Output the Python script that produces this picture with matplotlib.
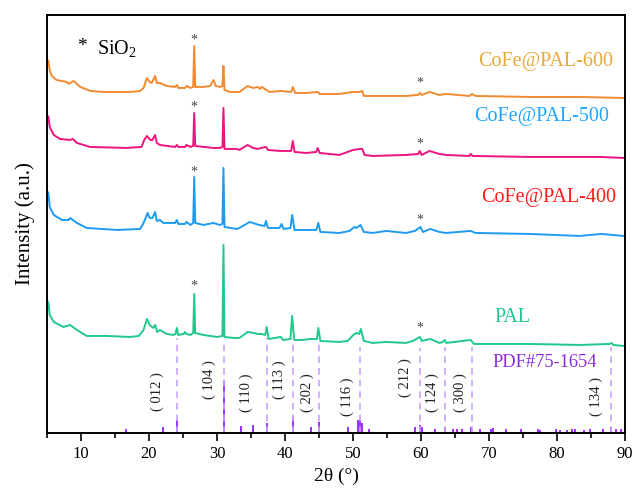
import numpy as np
import matplotlib.pyplot as plt

plt.rcParams['font.family'] = ['Liberation Serif', 'Noto Sans CJK SC']
plt.rcParams['mathtext.fontset'] = 'custom'
plt.rcParams['mathtext.rm'] = 'Liberation Serif'

# XRD patterns (2theta, intensity in arbitrary offset units)
tt_600 = [5.0, 5.2, 5.4, 5.7, 6.4, 7.9, 8.2, 8.9, 9.9, 11.4, 13.3, 17.2, 18.7, 19.2, 19.7, 20.1, 20.4, 20.9, 21.15,
          21.6, 22.6, 23.85, 24.1, 24.3, 25.3, 25.5, 26.1, 26.5, 26.65, 26.8, 28.0, 29.0, 29.5, 29.8, 30.5, 30.8,
          30.95, 31.1, 31.9, 33.3, 34.5, 35.3, 36.0, 36.3, 36.6, 37.7, 39.4, 40.9, 41.15, 41.5, 43.1, 44.8, 45.1,
          48.0, 50.0, 51.0, 51.35, 51.6, 52.9, 57.8, 59.6, 59.85, 60.1, 61.25, 62.7, 63.7, 67.1, 67.5, 68.0, 76.0,
          83.3, 89.8, 90.0]
i_600 = [374, 372, 363, 357, 353, 351, 349, 352, 346, 342, 341, 341, 342, 345, 355, 351, 350, 357, 350,
         350, 347, 346, 348, 345, 345, 347, 345, 346, 387, 346, 346, 347, 353, 347, 346, 347,
         367, 343, 341, 341, 347, 345, 346, 344, 346, 341, 342, 341, 346, 340, 340, 341, 339,
         339, 341, 341, 342, 337, 337, 337, 338, 340, 338, 341, 338, 339, 337, 339, 337, 336,
         336, 335, 335]

tt_500 = [5.0, 5.2, 5.4, 6.0, 6.9, 8.4, 8.8, 9.4, 11.35, 16.7, 18.9, 19.3, 19.7, 20.2, 20.5, 20.9, 21.15, 21.6,
          23.85, 24.1, 24.3, 25.3, 25.5, 26.1, 26.5, 26.65, 26.8, 29.5, 30.4, 30.8, 30.95, 31.1, 32.9, 33.3, 34.5,
          35.3, 36.0, 36.5, 37.2, 37.5, 39.2, 40.9, 41.15, 41.4, 43.1, 44.6, 44.8, 45.1, 48.0, 50.0, 51.0, 51.35,
          51.7, 52.9, 57.8, 59.6, 59.8, 60.1, 61.25, 62.7, 63.7, 67.1, 67.3, 67.6, 76.0, 83.3, 86.5, 89.8, 90.0]
i_500 = [318, 316, 306, 298, 294, 293, 294, 290, 286, 285, 286, 293, 297, 293, 293, 298, 290, 288,
         286, 288, 286, 286, 288, 286, 287, 320, 287, 285, 285, 286, 325, 284, 284, 283, 288,
         285, 284, 285, 286, 283, 282, 282, 292, 281, 280, 281, 285, 280, 278, 283, 284, 284,
         278, 277, 278, 279, 282, 278, 282, 279, 278, 277, 279, 277, 276, 276, 276, 275, 275]

tt_400 = [5.0, 5.2, 5.4, 6.0, 7.2, 8.2, 8.4, 9.4, 10.85, 15.3, 18.7, 19.2, 19.8, 20.1, 20.5, 20.9, 21.15, 21.6,
          22.1, 23.85, 24.1, 24.3, 25.3, 25.5, 26.1, 26.5, 26.65, 26.8, 28.0, 29.5, 30.4, 30.8, 30.95, 31.1, 32.9,
          33.3, 34.8, 36.2, 37.0, 37.2, 37.5, 39.2, 39.5, 39.8, 40.8, 41.05, 41.4, 42.4, 44.6, 44.9, 45.2, 48.0,
          49.5, 50.2, 50.5, 51.1, 51.6, 52.9, 54.9, 57.8, 59.1, 59.9, 60.3, 61.35, 62.7, 63.7, 67.3, 68.0, 76.0,
          83.3, 86.5, 89.8, 90.0]
i_400 = [242, 240, 226, 218, 213, 213, 215, 210, 205, 203, 204, 210, 220, 215, 215, 221, 212, 213,
         210, 210, 213, 209, 209, 211, 208, 210, 256, 210, 208, 210, 208, 209, 265, 206, 204,
         205, 211, 208, 207, 212, 205, 205, 209, 204, 205, 218, 203, 203, 203, 210, 201, 200,
         202, 206, 205, 208, 201, 200, 202, 200, 202, 206, 201, 204, 201, 200, 202, 200, 199,
         197, 199, 197, 197]

tt_pal = [5.0, 5.2, 5.4, 6.0, 7.4, 8.4, 9.4, 10.85, 13.8, 17.2, 18.5, 19.2, 19.7, 20.1, 20.6, 20.9, 21.2, 21.6,
          22.6, 23.6, 23.9, 24.1, 24.3, 25.1, 25.3, 25.5, 26.1, 26.5, 26.65, 26.8, 28.0, 30.0, 30.8, 30.95, 31.1,
          32.4, 33.3, 34.5, 35.4, 36.0, 36.5, 37.1, 37.3, 37.6, 39.4, 39.7, 40.8, 41.05, 41.35, 42.5, 43.8, 44.7,
          44.9, 45.2, 48.0, 49.2, 50.2, 50.6, 50.9, 51.15, 51.6, 52.9, 54.9, 57.8, 58.8, 59.85, 60.1, 61.35, 62.7,
          63.2, 63.5, 63.7, 67.3, 67.8, 76.0, 83.3, 87.7, 88.0, 88.3, 89.8, 90.0]
i_pal = [133, 130, 118, 111, 106, 108, 103, 97, 97, 96, 97, 103, 114, 108, 105, 108, 101, 103,
         99, 98, 99, 105, 98, 99, 101, 99, 98, 100, 139, 100, 98, 96, 97, 188, 96,
         95, 95, 101, 100, 99, 99, 98, 106, 94, 96, 93, 94, 117, 93, 93, 94, 94,
         105, 92, 91, 92, 99, 100, 99, 104, 92, 90, 91, 90, 92, 96, 92, 94, 90,
         91, 93, 90, 93, 89, 89, 88, 89, 90, 88, 87, 87]

# PDF#75-1654 reference sticks
pdf_pos = [16.6, 22.1, 24.1, 31.0, 33.6, 35.3, 37.4, 41.15, 43.85, 45.0, 49.3, 50.7, 51.05, 51.35, 52.4,
           59.05, 59.8, 60.1, 62.1, 63.5, 64.7, 65.3, 66.1, 67.4, 68.7, 70.3, 70.6, 72.5, 74.7, 77.2, 77.5,
           79.9, 80.4, 81.4, 82.2, 82.6, 84.0, 84.8, 86.7, 88.0, 88.7, 89.4]
pdf_int = [4, 6, 13, 52, 7, 8, 10, 17, 6, 11, 6, 13, 14, 10, 4,
           6, 8, 6, 4, 6, 4, 4, 4, 6, 4, 4, 5, 4, 4, 4, 3,
           4, 3, 3, 4, 4, 3, 4, 4, 6, 4, 4]

# dashed guide lines from PAL peaks down to the sticks
guide_pos = [24.15, 31.0, 37.4, 41.15, 45.0, 51.1, 59.9, 63.55, 67.5, 88.0]
guide_top = [95, 90, 95, 95, 89, 86, 85, 86, 86, 86]

hkl = ['012', '104', '110', '113', '202', '116', '212', '124', '300', '134']
hkl_x = [21.25, 28.9, 34.35, 39.2, 43.2, 49.2, 57.7, 61.7, 65.8, 85.8]
hkl_y = [41, 53, 40, 53, 40, 36, 55, 40, 40, 36]

star_x = [26.65, 26.65, 26.65, 26.65, 59.9, 59.9, 59.9, 59.9]
star_y = [393, 326, 261, 147, 350, 289, 213, 105]

fig = plt.figure(figsize=(6.36, 4.92), dpi=100)
ax = fig.add_axes([0.0739, 0.12, 0.9088, 0.8496])

ax.plot(tt_600, i_600, color='#F28A30', lw=1.4)
ax.plot(tt_500, i_500, color='#EE1480', lw=1.4)
ax.plot(tt_400, i_400, color='#1E9BF0', lw=1.4)
ax.plot(tt_pal, i_pal, color='#20C98A', lw=1.4)

ax.vlines(pdf_pos, 0, pdf_int, color='#9B30FF', lw=1.4)
ax.vlines(guide_pos, 0, guide_top, color='#C9A2FF', lw=1.2, linestyles=(0, (4, 3)))

for h, x, y in zip(hkl, hkl_x, hkl_y):
    ax.text(x, y, '( ' + h + ' )', rotation=90, ha='center', va='center', fontsize=10.5, color='#222222')

for x, y in zip(star_x, star_y):
    ax.text(x, y, '*', ha='center', va='center', fontsize=10, color='#444444')

ax.text(10.2, 386, '*', ha='center', va='center', fontsize=14, color='black')
ax.text(12.4, 384, r'SiO$_\mathrm{2}$', ha='left', va='center', fontsize=14.5, color='black')

ax.text(88.2, 371, 'CoFe@PAL-600', ha='right', va='center', fontsize=14.5, color='#E8A838')
ax.text(87.7, 316, 'CoFe@PAL-500', ha='right', va='center', fontsize=14.5, color='#1EA5FF')
ax.text(88.75, 235, 'CoFe@PAL-400', ha='right', va='center', fontsize=14.5, color='#FF1A1A')
ax.text(73.5, 115, 'PAL', ha='center', va='center', fontsize=14.5, color='#20C98A')
ax.text(78.2, 70, 'PDF#75-1654', ha='center', va='center', fontsize=13.2, color='#8A2BE2')

ax.set_xlim(5, 90)
ax.set_ylim(0, 418)
ax.set_xticks(np.arange(10, 91, 10))
ax.set_xticks(np.arange(5, 91, 5), minor=True)
ax.set_yticks([])
ax.tick_params(axis='x', which='major', direction='out', length=6, width=1.2, labelsize=12)
ax.tick_params(axis='x', which='minor', direction='out', length=3.5, width=1.2)
for s in ax.spines.values():
    s.set_linewidth(1.4)

ax.set_xlabel('2θ (°)', fontsize=14, labelpad=4)
ax.set_ylabel('Intensity (a.u.)', fontsize=15, labelpad=9)

fig.savefig('out.png', dpi=100)
